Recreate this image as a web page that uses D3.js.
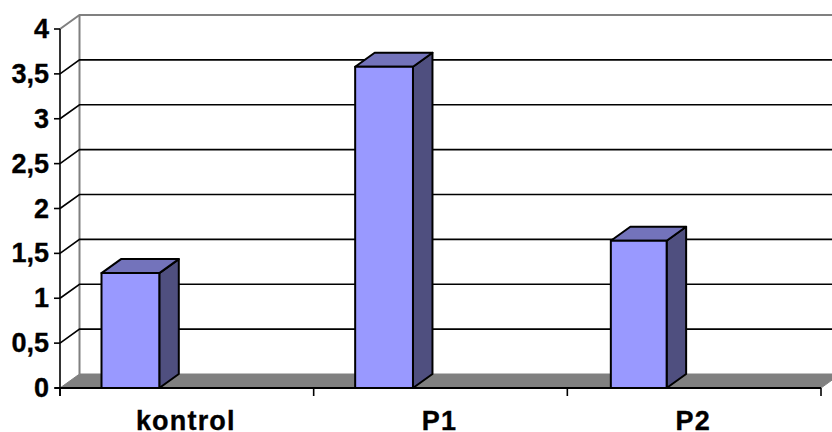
<!DOCTYPE html>
<html><head><meta charset="utf-8">
<script src="https://cdn.jsdelivr.net/npm/d3@7"></script>
<style>html,body{margin:0;padding:0;background:#fff}svg{display:block}text{font-family:"Liberation Sans",Arial,sans-serif;font-weight:700;fill:#000;stroke:#000;stroke-width:.35}</style>
</head><body><svg id="c" width="832" height="432"></svg>
<script>
const categories = ["kontrol","P1","P2"];
const values = [1.28,3.58,1.64];
const yTicks = [0,0.5,1,1.5,2,2.5,3,3.5,4];
const yLabels = ["0","0,5","1","1,5","2","2,5","3","3,5","4"];

const dx = 19.5, dy = -14;
const svg = d3.select("#c");
const y = d3.scaleLinear().domain([0,4]).range([388,29]);
const x = d3.scaleBand().domain(categories).range([60,821]);
const barInsets = [41.5,41.5,43.5], barEnd = 99.3;
const left = 60, right = 821;
const poly = (pts,fill,stroke,sw) => svg.append("polygon").attr("points",pts.map(p=>p.join(",")).join(" ")).attr("fill",fill).attr("stroke",stroke).attr("stroke-width",sw).attr("stroke-linejoin","round");

poly([[left,y(0)],[left+dx,y(0)+dy],[right+dx,y(0)+dy],[right,y(0)]],"#808080","#808080",1);
svg.append("path").attr("d",`M${left},${y(4)}L${left+dx},${y(4)+dy}L${right+dx+2},${y(4)+dy}`).attr("fill","none").attr("stroke","#808080").attr("stroke-width",2);
svg.append("line").attr("x1",left+dx).attr("x2",left+dx).attr("y1",y(4)+dy).attr("y2",y(0)+dy).attr("stroke","#808080").attr("stroke-width",2);
yTicks.filter(t=>t>0&&t<4).forEach(t=>{
  svg.append("path").attr("d",`M${left},${y(t)}L${left+dx},${y(t)+dy}L${right+dx+2},${y(t)+dy}`).attr("fill","none").attr("stroke","#000").attr("stroke-width",1.6);
});
categories.forEach((c,i)=>{
  const x0 = x(c)+barInsets[i], x1 = x(c)+barEnd, t=y(values[i]), b=y(0);
  poly([[x1,t],[x1+dx,t+dy],[x1+dx,b+dy],[x1,b]],"#4f4f7f","#000",2);
  poly([[x0,t],[x0+dx,t+dy],[x1+dx,t+dy],[x1,t]],"#7373bb","#000",2);
  poly([[x0,t],[x1,t],[x1,b],[x0,b]],"#9999ff","#000",2);
});
svg.append("line").attr("x1",left).attr("x2",left).attr("y1",y(4)).attr("y2",y(0)+8).attr("stroke","#000").attr("stroke-width",1.6);
svg.append("line").attr("x1",left-5).attr("x2",right).attr("y1",y(0)).attr("y2",y(0)).attr("stroke","#000").attr("stroke-width",2.2);
yTicks.forEach((t,i)=>{
  svg.append("line").attr("x1",left-6).attr("x2",left).attr("y1",y(t)).attr("y2",y(t)).attr("stroke","#000").attr("stroke-width",1.6);
  svg.append("text").attr("x",49).attr("y",y(t)+9).attr("text-anchor","end").attr("font-size",27).text(yLabels[i]);
});
[left,...categories.map(c=>x(c)+x.bandwidth())].forEach(v=>{
  svg.append("line").attr("x1",v).attr("x2",v).attr("y1",y(0)).attr("y2",y(0)+8).attr("stroke","#000").attr("stroke-width",1.6);
});
categories.forEach(c=>{
  svg.append("text").attr("x",x(c)+x.bandwidth()/2-1).attr("y",430).attr("text-anchor","middle").attr("font-size",27).attr("letter-spacing",1.2).text(c);
});
</script></body></html>
